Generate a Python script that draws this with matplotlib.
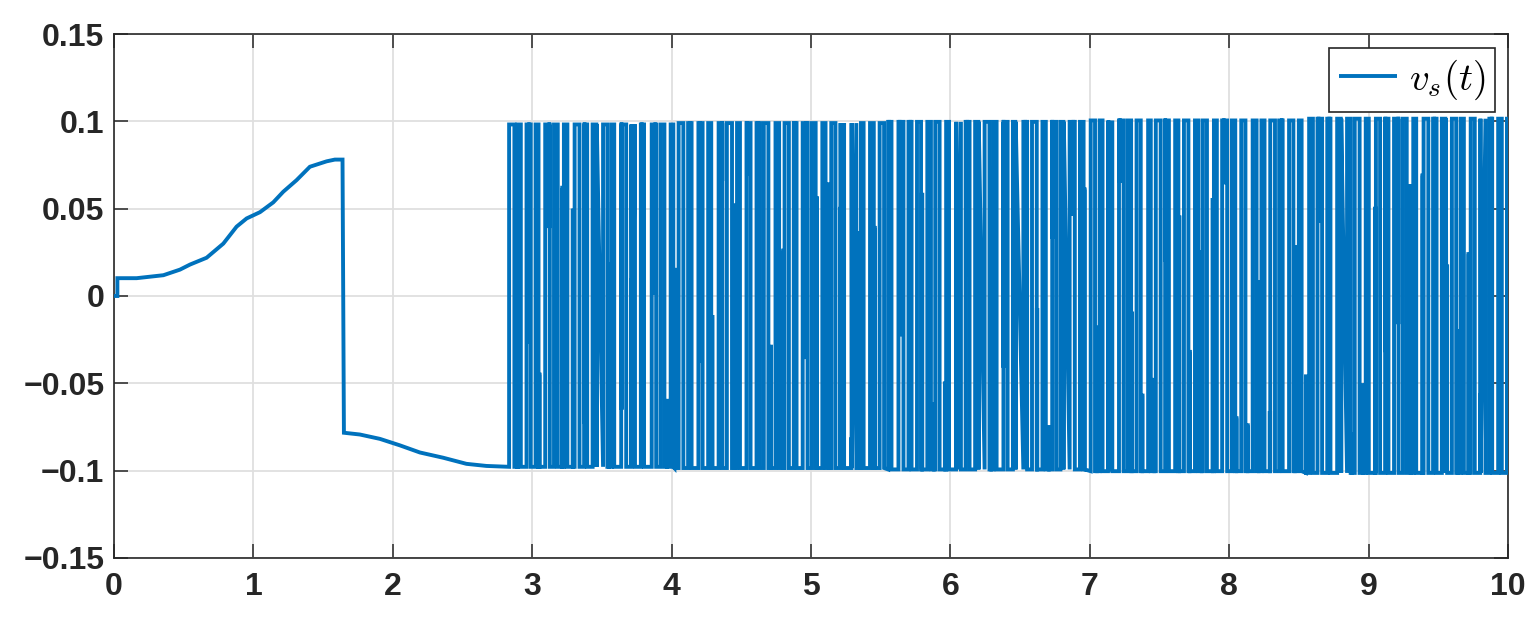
import matplotlib
matplotlib.use("Agg")
import matplotlib.pyplot as plt
import numpy as np

# smooth part before the switching starts (t in s, v)
ramp_t = [0.0, 0.007, 0.024, 0.024, 0.162, 0.354, 0.473, 0.545, 0.664, 0.784,
          0.879, 0.951, 1.047, 1.142, 1.214, 1.309, 1.405, 1.525, 1.584, 1.639,
          1.649, 1.763, 1.907, 2.050, 2.194, 2.361, 2.528, 2.671, 2.834]
ramp_v = [0.0, 0.0, 0.0, 0.0102, 0.0102, 0.0119, 0.0151, 0.018, 0.0219, 0.030,
          0.0397, 0.0444, 0.048, 0.0536, 0.0597, 0.0663, 0.074, 0.0771, 0.0781, 0.0781,
          -0.0783, -0.0793, -0.0818, -0.0855, -0.0896, -0.0926, -0.0961, -0.0973, -0.0978]

# switching part (starts at 2.834 s): duration of each high and following low phase, ms
chatter_start = 2.834
high_ms = [38, 24, 30, 21, 33, 27, 25, 35, 22, 29,
           31, 20, 36, 26, 23, 32, 28, 19, 34, 25,
           30, 22, 27, 37, 21, 29, 24, 33, 26, 31,
           20, 35, 28, 23, 30, 25, 34, 19, 27, 32,
           24, 36, 22, 29, 26, 31, 21, 33, 28, 25,
           35, 23, 30, 20, 27, 34, 24, 29, 22, 37,
           26, 31, 21, 28, 33, 25, 30, 19, 35, 27,
           23, 32, 26, 29, 21, 36, 24, 30, 28, 22,
           34, 25, 31, 20, 27, 33, 23, 29, 26, 35,
           22, 30, 24, 32, 28, 21, 34, 25, 27, 31,
           23, 29, 36, 20, 26, 30, 24]
low_ms = [22, 41, 35, 48, 30, 44, 52, 33, 39, 46,
          29, 50, 37, 42, 55, 31, 45, 38, 34, 49,
          40, 53, 32, 36, 47, 43, 28, 51, 39, 35,
          44, 30, 48, 41, 37, 54, 33, 46, 42, 29,
          50, 36, 39, 45, 31, 47, 52, 34, 40, 43,
          28, 49, 38, 55, 35, 41, 46, 30, 44, 37,
          51, 33, 42, 48, 29, 39, 53, 36, 32, 45,
          40, 47, 31, 50, 38, 34, 43, 52, 35, 41,
          30, 46, 39, 54, 33, 37, 48, 42, 29, 44,
          51, 36, 40, 31, 47, 53, 34, 38, 45, 32,
          49, 41, 28, 43, 37, 50, 35]

# short sampled excursions inside a plateau (time, level reached)
glitch_t = [2.890, 3.050, 3.215, 3.375, 3.550, 3.785, 3.965, 4.130, 4.290, 4.450,
            4.620, 4.800, 4.965, 5.130, 5.290, 5.455, 5.635, 5.795, 5.960, 6.120,
            6.290, 6.465, 6.535, 6.705, 6.880, 7.050, 7.215, 7.375, 7.540, 7.715,
            7.880, 8.050, 8.210, 8.375, 8.550, 8.715, 8.880, 9.045, 9.210, 9.385,
            9.550, 9.715, 9.880, 3.120, 3.460, 3.880, 4.360, 4.710, 5.210, 5.560,
            6.040, 6.380, 6.810, 7.300, 7.640, 8.130, 8.470, 8.960, 9.300, 9.640,
            2.975, 3.290, 3.640, 4.020, 4.540, 4.880, 5.350, 5.710, 6.200, 6.620,
            6.960, 7.460, 7.800, 8.290, 8.640, 9.120, 9.470, 9.800, 3.710, 4.200,
            5.040, 5.880, 6.730, 7.130, 7.960, 8.800, 9.560]
glitch_v = [0.031, -0.045, 0.062, -0.072, 0.018, 0.044, -0.060, 0.071, -0.012, 0.052,
            -0.068, 0.026, -0.035, 0.064, -0.081, 0.039, -0.022, 0.058, -0.050, 0.012,
            0.073, -0.041, 0.030, -0.075, 0.047, -0.018, 0.066, -0.057, 0.021, -0.032,
            0.055, -0.070, 0.008, 0.060, -0.046, 0.035, -0.079, 0.050, -0.015, 0.069,
            -0.063, 0.024, -0.038, 0.040, -0.055, 0.002, 0.067, -0.029, 0.051, -0.066,
            0.020, -0.040, 0.058, -0.010, 0.045, -0.074, 0.028, -0.051, 0.063, -0.020,
            -0.026, 0.049, -0.064, 0.015, 0.070, -0.043, 0.036, -0.071, 0.054, -0.008,
            0.061, -0.048, 0.025, -0.067, 0.043, -0.031, 0.068, -0.056, 0.010, -0.037,
            0.056, -0.062, 0.034, -0.024, 0.065, -0.045, 0.017]

# plateau levels per time block
block_start = [2.8, 4.0, 5.5, 7.0, 8.5]
level_hi = [0.0982, 0.0990, 0.0997, 0.1005, 0.1015]
level_lo = [-0.0978, -0.0985, -0.0993, -0.1003, -0.1013]

xticks = [0, 1, 2, 3, 4, 5, 6, 7, 8, 9, 10]
yticks = [-0.15, -0.1, -0.05, 0, 0.05, 0.1, 0.15]
ytick_labels = ["\u22120.15", "\u22120.1", "\u22120.05", "0", "0.05", "0.1", "0.15"]

BLUE = "#0072BD"
DARK = "#262626"


def levels_at(t):
    k = np.searchsorted(block_start, t, side="right") - 1
    return level_hi[k], level_lo[k]


def build_switching():
    pts = []
    rises, falls = [], []
    t0 = chatter_start
    for h, l in zip(high_ms, low_ms):
        r = t0
        f = min(r + h / 1000, 10.0)
        if r >= 10.0:
            break
        hi, lo = levels_at(r)
        pts += [(r, lo), (r, hi), (f, hi), (f, lo)]
        rises.append(r)
        falls.append(f)
        t0 = f + l / 1000
    rises = np.array(rises)
    falls = np.array(falls)
    for g, v in zip(glitch_t, glitch_v):
        hi, lo = levels_at(g)
        inside = np.any((rises < g) & (falls > g))
        base = hi if inside else lo
        pts += [(g, base), (g, v), (g + 0.003, v), (g + 0.003, base)]
    pts.sort(key=lambda p: p[0])
    return [p[0] for p in pts], [p[1] for p in pts]


sw_t, sw_v = build_switching()
t = list(ramp_t) + sw_t
v = list(ramp_v) + sw_v

plt.rcParams["font.family"] = ["Liberation Sans", "DejaVu Sans"]
plt.rcParams["mathtext.fontset"] = "cm"
plt.rcParams["path.simplify"] = False
plt.rcParams["agg.path.chunksize"] = 0

fig = plt.figure(figsize=(15.39, 6.24), dpi=100)
ax = fig.add_axes([0.0741, 0.1058, 0.9058, 0.8397])

ax.plot(t, v, color=BLUE, linewidth=2.8, solid_joinstyle="miter", solid_capstyle="butt",
        label=r"$v_s(t)$", zorder=3)

ax.set_xlim(0, 10)
ax.set_ylim(-0.15, 0.15)
ax.set_xticks(xticks)
ax.set_xticklabels([str(x) for x in xticks])
ax.set_yticks(yticks)
ax.set_yticklabels(ytick_labels)
ax.grid(True, color="#dfdfdf", linewidth=1.3, zorder=0)
ax.set_axisbelow(True)
ax.tick_params(direction="in", length=10, width=1.1, colors=DARK, labelsize=23,
               top=True, right=True, pad=7)
ax.tick_params(axis="x", pad=10)
for lab in ax.get_xticklabels() + ax.get_yticklabels():
    lab.set_fontweight("bold")
for sp in ax.spines.values():
    sp.set_color(DARK)
    sp.set_linewidth(1.2)

leg = ax.legend(loc="upper right", bbox_to_anchor=(0.9907, 0.973), borderaxespad=0,
                fontsize=28, fancybox=False, framealpha=1, handlelength=1.5,
                handletextpad=0.3, borderpad=0.25)
leg.get_frame().set_edgecolor(DARK)
leg.get_frame().set_linewidth(1.2)

fig.savefig("out.png", dpi=100)
